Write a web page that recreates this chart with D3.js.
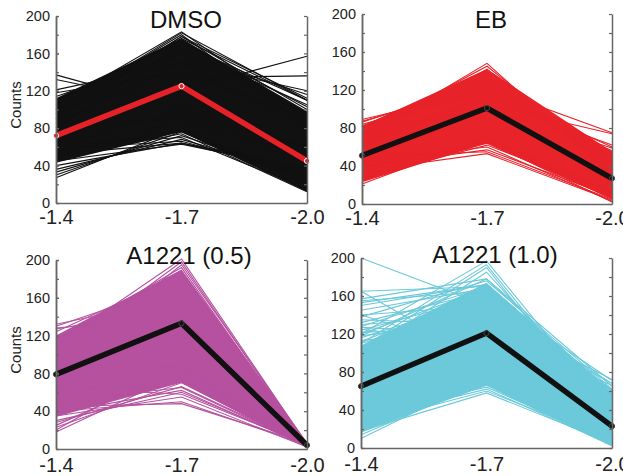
<!DOCTYPE html>
<html><head><meta charset="utf-8">
<script src="https://cdn.jsdelivr.net/npm/d3@7"></script>
<style>body{margin:0;background:#fff} text{font-family:Arial,"Liberation Sans",sans-serif}</style>
</head><body><svg id="c" width="623" height="476"></svg>
<script>
// ---- data ----
const xValues = [-1.4, -1.7, -2.0];
const xTickLabels = ["-1.4", "-1.7", "-2.0"];
const yTicks = [0, 40, 80, 120, 160, 200];
const yMinorTicks = [0, 20, 40, 60, 80, 100, 120, 140, 160, 180, 200];
const titles = ["DMSO", "EB", "A1221 (0.5)", "A1221 (1.0)"];

const meanDMSO = [72, 125, 45];
const meanEB = [51, 101, 27];
const meanA05 = [79, 133, 4];
const meanA10 = [65, 121, 23];

const bandLoDMSO = [43, 76, 12], bandHiDMSO = [112, 176, 98];
const bandLoEB = [23, 64, 5], bandHiEB = [82, 142, 55];
const bandLoA05 = [34, 70, 1], bandHiA05 = [120, 190, 7];
const bandLoA10 = [16, 66, 2], bandHiA10 = [108, 174, 58];

const linesDMSO = [
 [137,100,60],[132,104,70],[121,150,80],[118,140,90],[114,160,95],
 [105,183,90],[100,180,82],[95,178,100],[108,176,110],[100,182,110],[95,178,112],
 [90,121,157],[100,134,136],[85,150,120],[95,160,116],[80,170,110],[90,165,105],[110,172,103],
 [27,80,25],[30,76,20],[33,72,28],[36,68,30],[40,64,33],[45,63,35],[52,64,38],[58,66,30],
 [62,70,15],[48,74,12],[55,78,22],[70,95,60],[85,90,50],[65,85,45]];
const linesEB = [
 [89,120,60],[87,125,55],[84,118,50],[86,130,45],[82,135,40],
 [70,148,30],[75,145,40],[65,142,35],
 [80,123,75],[70,110,62],[75,100,59],[65,105,74],[60,115,56],
 [21,70,10],[25,68,15],[30,64,6],[35,53,4],[40,57,8],[45,60,3],[28,62,12],[50,55,5],[38,66,2]];
const linesA05 = [
 [132,160,5],[130,175,4],[127,150,6],[124,185,3],[128,140,7],
 [110,201,5],[100,198,4],[90,195,6],[115,192,3],
 [18,80,5],[23,70,3],[30,60,5],[40,50,4],[45,48,6],[35,55,2],[50,65,3],[60,75,5],
 [25,85,4],[70,90,3],[20,95,6],[55,88,4],[65,58,5],[42,72,2],[28,66,4],[38,62,3]];
const linesA10 = [
 [200,150,60],[165,90,40],[165,170,60],[157,178,65],[153,172,55],[155,165,50],[140,150,62],
 [135,130,58],[130,140,68],[127,120,55],[122,125,45],[118,135,50],[113,128,40],[110,150,52],
 [125,110,48],[140,100,35],
 [150,172,60],[145,168,55],[138,176,62],[132,165,50],[128,170,58],[124,160,45],[120,168,52],
 [116,158,48],[112,162,40],[118,178,56],
 [120,197,35],[110,193,30],[100,185,40],[105,190,25],
 [90,160,71],[100,140,72],[80,150,68],[95,130,61],[85,120,66],
 [10,75,15],[18,58,5],[25,60,8],[30,62,3],[14,70,10],[35,64,6],[20,66,2]];

// ---- layout / style ----
const panels = [
 {title:titles[0], mean:meanDMSO, lo:bandLoDMSO, hi:bandHiDMSO, lines:linesDMSO, color:"#111111", meanColor:"#e52228", markerStroke:"#ffffff",
  left:56, right:307, bottom:203, top:16, titleX:186, titleY:28, xlabDy:22, counts:true, countsY:105},
 {title:titles[1], mean:meanEB, lo:bandLoEB, hi:bandHiEB, lines:linesEB, color:"#e8232a", meanColor:"#111111", markerStroke:"#444444",
  left:362, right:612, bottom:204, top:14, titleX:491, titleY:28, xlabDy:22, counts:false},
 {title:titles[2], mean:meanA05, lo:bandLoA05, hi:bandHiA05, lines:linesA05, color:"#b5519f", meanColor:"#111111", markerStroke:"#444444",
  left:56, right:307, bottom:449, top:260, titleX:189, titleY:264, xlabDy:24, counts:true, countsY:350},
 {title:titles[3], mean:meanA10, lo:bandLoA10, hi:bandHiA10, lines:linesA10, color:"#6bc9da", meanColor:"#111111", markerStroke:"#444444",
  left:361, right:612, bottom:448, top:258, titleX:495, titleY:263, xlabDy:24, counts:false}
];

const svg = d3.select("#c");
const axisColor = "#666";

panels.forEach(p => {
  const x = d3.scaleLinear().domain([xValues[0], xValues[2]]).range([p.left, p.right]);
  const y = d3.scaleLinear().domain([0, 200]).range([p.bottom, p.top]);
  const g = svg.append("g");

  // dense core band
  const area = d3.area().x((d, i) => x(xValues[i])).y0((d, i) => y(p.lo[i])).y1((d, i) => y(p.hi[i]));
  g.append("path").datum(p.lo).attr("d", area).attr("fill", p.color);

  const line = d3.line().x((d, i) => x(xValues[i])).y(d => y(d));
  g.selectAll("path.ind").data(p.lines).enter().append("path")
    .attr("class", "ind").attr("d", line).attr("fill", "none")
    .attr("stroke", p.color).attr("stroke-width", 1.1);

  // mean line
  g.append("path").datum(p.mean).attr("d", line).attr("fill", "none")
    .attr("stroke", p.meanColor).attr("stroke-width", 5.5).attr("stroke-linejoin", "miter");
  g.selectAll("circle.m").data(p.mean).enter().append("circle")
    .attr("class", "m").attr("cx", (d, i) => x(xValues[i])).attr("cy", d => y(d)).attr("r", 2.6)
    .attr("fill", p.meanColor).attr("stroke", p.markerStroke).attr("stroke-width", 1);

  // axes
  const la = g.append("g").attr("transform", `translate(${p.left},0)`)
    .call(d3.axisLeft(y).tickValues(yMinorTicks).tickSizeInner(-3).tickSizeOuter(0).tickFormat(""));
  const lb = g.append("g").attr("transform", `translate(${p.left},0)`)
    .call(d3.axisLeft(y).tickValues(yTicks).tickSizeInner(-3).tickSizeOuter(0).tickPadding(6));
  lb.selectAll("text").attr("font-size", 14.5).attr("fill", "#222").attr("font-family", "Arial, 'Liberation Sans', sans-serif");
  const ra = g.append("g").attr("transform", `translate(${p.right},0)`)
    .call(d3.axisRight(y).tickValues(yMinorTicks).tickSizeInner(-3).tickSizeOuter(0).tickFormat(""));
  const ba = g.append("g").attr("transform", `translate(0,${p.bottom})`)
    .call(d3.axisBottom(x).tickValues(xValues).tickSize(0).tickPadding(p.xlabDy - 15)
      .tickFormat((d, i) => xTickLabels[i]));
  ba.selectAll("text").attr("font-size", 20).attr("fill", "#222").attr("font-family", "Arial, 'Liberation Sans', sans-serif");
  [la, lb, ra, ba].forEach(a => {
    a.selectAll(".domain").attr("stroke", axisColor).attr("stroke-width", 1.5);
    a.selectAll(".tick line").attr("stroke", axisColor).attr("stroke-width", 1.2);
  });

  g.append("text").attr("x", p.titleX).attr("y", p.titleY).attr("text-anchor", "middle")
    .attr("font-size", 24).attr("fill", "#111").text(p.title);
  if (p.counts) {
    g.append("text").attr("transform", `translate(21,${p.countsY}) rotate(-90)`)
      .attr("text-anchor", "middle").attr("font-size", 15).attr("fill", "#222").text("Counts");
  }
});
</script></body></html>
